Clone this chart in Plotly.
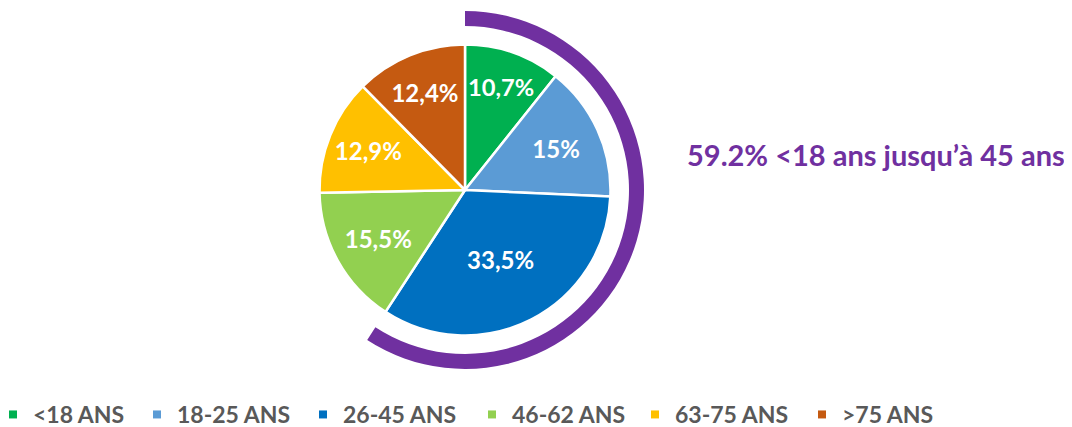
import plotly.graph_objects as go

categories = ["<18 ANS", "18-25 ANS", "26-45 ANS", "46-62 ANS", "63-75 ANS", ">75 ANS"]
values = [10.7, 15, 33.5, 15.5, 12.9, 12.4]
colors = ["#00B050", "#5B9BD5", "#0070C0", "#92D050", "#FFC000", "#C55A11"]

arc_labels = ["<18 ans jusqu’à 45 ans", "reste"]
arc_values = [59.2, 40.8]
arc_colors = ["#7030A0", "rgba(0,0,0,0)"]
arc_text = "59.2% <18 ans jusqu’à 45 ans"

# styling: legend entry widths (px)
legend_widths = [114, 136, 139, 133, 137, 110]

# the page body has an 8px margin: figure is placed at (8, 8)
OFF = 8
W, H = 1072 - OFF, 427 - OFF
cx, cy = 465 - OFF, 190 - OFF
r_pie = 145.5
r_arc_out, r_arc_in = 179, 164

def dom(r):
    return dict(x=[(cx - r) / W, (cx + r) / W],
                y=[(H - cy - r) / H, (H - cy + r) / H])

labels_txt = [("{:g}".format(v)).replace(".", ",") + "%" for v in values]

fig = go.Figure()
fig.add_trace(go.Pie(
    labels=arc_labels, values=arc_values, sort=False, direction="clockwise",
    rotation=0, hole=r_arc_in / r_arc_out, domain=dom(r_arc_out),
    marker=dict(colors=arc_colors, line=dict(width=0)),
    textinfo="none", showlegend=False, hoverinfo="skip",
))
fig.add_trace(go.Pie(
    labels=categories, values=values, sort=False, direction="clockwise",
    rotation=0, domain=dom(r_pie), showlegend=False,
    marker=dict(colors=colors, line=dict(color="white", width=2.5)),
    text=labels_txt, textinfo="text", textposition="inside",
    insidetextorientation="horizontal",
    textfont=dict(family="Lato", size=24, color="white", weight="bold"),
))
for cat, col, lw in zip(categories, colors, legend_widths):
    fig.add_trace(go.Scatter(
        x=[None], y=[None], mode="markers", name=cat,
        marker=dict(symbol="square", size=8, color=col),
        legendwidth=lw, hoverinfo="skip",
    ))
fig.add_annotation(
    text=arc_text, x=(685 - OFF) / W, y=(H - (154 - OFF)) / H,
    xref="paper", yref="paper",
    xanchor="left", yanchor="middle", showarrow=False,
    font=dict(family="Lato", size=29, color="#7030A0", weight="bold"),
)
fig.update_layout(
    width=W, height=H, margin=dict(l=0, r=0, t=0, b=0, autoexpand=False),
    paper_bgcolor="white", plot_bgcolor="white",
    xaxis=dict(visible=False), yaxis=dict(visible=False),
    legend=dict(orientation="h", x=0.0, xanchor="left",
                y=(427 - 414.5) / H, yanchor="middle", indentation=-15,
                font=dict(family="Lato", size=23, color="#595959", weight="bold"),
                traceorder="normal"),
)
fig.write_html("out.html")
